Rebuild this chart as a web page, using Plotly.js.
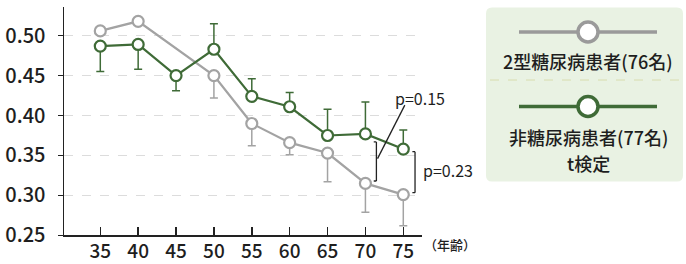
<!DOCTYPE html>
<html>
<head>
<meta charset="utf-8">
<script src="https://cdn.plot.ly/plotly-3.0.1.min.js"></script>
<style>html,body{margin:0;padding:0;background:#fff;}#chart{width:686px;height:264px;}</style>
</head>
<body>
<div id="chart"></div>
<script>
// ---- data ----
const ages = [35, 40, 45, 50, 55, 60, 65, 70, 75];
const dmValues = [0.506, 0.518, null, 0.450, 0.390, 0.366, 0.353, 0.315, 0.301];
const dmErrMinus = [0, 0, 0, 0.028, 0.028, 0.015, 0.036, 0.036, 0.039];
const dmErrPlus = [0, 0, 0, 0, 0, 0, 0, 0, 0];
const nonDmValues = [0.487, 0.489, 0.450, 0.483, 0.424, 0.411, 0.375, 0.377, 0.358];
const nonDmErrMinus = [0.032, 0.031, 0.019, 0, 0, 0, 0, 0, 0];
const nonDmErrPlus = [0, 0, 0, 0.032, 0.022, 0.018, 0.033, 0.040, 0.024];
const yTicks = [0.25, 0.30, 0.35, 0.40, 0.45, 0.50];
const yTickText = ['0.25', '0.30', '0.35', '0.40', '0.45', '0.50'];
const dmName = '2型糖尿病患者(76名)';
const nonDmName = '非糖尿病患者(77名)';
const testName = 't検定';
const xUnit = '（年齢）';
const pLabels = ['p=0.15', 'p=0.23'];

// ---- style ----
const W = 686, H = 264;
const GRAY = '#a3a3a3';
const GREEN = '#3f6b37';
const FONT = '"Noto Sans CJK JP", "Noto Sans", sans-serif';
const TXT = '#1e1e1e';
const px = x => x / W;
const py = y => 1 - y / H;

const traces = [
  {
    x: ages, y: dmValues, type: 'scatter', mode: 'lines+markers', connectgaps: true,
    line: {color: GRAY, width: 2.2},
    marker: {symbol: 'circle', size: 11, color: '#fff', line: {color: GRAY, width: 2.2}},
    error_y: {type: 'data', symmetric: false, array: dmErrPlus, arrayminus: dmErrMinus,
              color: GRAY, thickness: 1.5, width: 4},
    cliponaxis: false, showlegend: false, hoverinfo: 'skip'
  },
  {
    x: ages, y: nonDmValues, type: 'scatter', mode: 'lines+markers',
    line: {color: GREEN, width: 2.2},
    marker: {symbol: 'circle', size: 11, color: '#fff', line: {color: GREEN, width: 2.2}},
    error_y: {type: 'data', symmetric: false, array: nonDmErrPlus, arrayminus: nonDmErrMinus,
              color: GREEN, thickness: 1.5, width: 4},
    cliponaxis: false, showlegend: false, hoverinfo: 'skip'
  }
];

function roundRect(x0, y0, x1, y1, r) {
  const X = v => px(v).toFixed(5), Y = v => py(v).toFixed(5);
  return 'M' + X(x0 + r) + ',' + Y(y0) + ' L' + X(x1 - r) + ',' + Y(y0) +
    ' Q' + X(x1) + ',' + Y(y0) + ' ' + X(x1) + ',' + Y(y0 + r) +
    ' L' + X(x1) + ',' + Y(y1 - r) +
    ' Q' + X(x1) + ',' + Y(y1) + ' ' + X(x1 - r) + ',' + Y(y1) +
    ' L' + X(x0 + r) + ',' + Y(y1) +
    ' Q' + X(x0) + ',' + Y(y1) + ' ' + X(x0) + ',' + Y(y1 - r) +
    ' L' + X(x0) + ',' + Y(y0 + r) +
    ' Q' + X(x0) + ',' + Y(y0) + ' ' + X(x0 + r) + ',' + Y(y0) + ' Z';
}
function circ(cx, cy, r, color) {
  return {type: 'circle', xref: 'paper', yref: 'paper',
    x0: px(cx - r), x1: px(cx + r), y0: py(cy + r), y1: py(cy - r),
    fillcolor: '#fff', line: {color: color, width: 3.5}};
}
function seg(x0, y0, x1, y1, color, width, dash) {
  return {type: 'line', xref: 'paper', yref: 'paper', x0: px(x0), x1: px(x1), y0: py(y0), y1: py(y1),
    line: {color: color, width: width, dash: dash || 'solid'}};
}
function dseg(x0, y0, x1, y1) {
  return {type: 'line', xref: 'x', yref: 'y', x0: x0, x1: x1, y0: y0, y1: y1,
    line: {color: '#222', width: 1.3}};
}

const shapes = [
  {type: 'path', xref: 'paper', yref: 'paper', path: roundRect(486, 7.5, 683, 181.5, 6),
   fillcolor: '#e9f2e3', line: {width: 0}, layer: 'below'},
  seg(519, 32, 657, 32, '#9a9a9a', 3.5),
  circ(588, 32, 10, '#9a9a9a'),
  seg(490, 80, 680, 80, '#d8dcae', 1, 'dash'),
  seg(519, 106.5, 657, 106.5, GREEN, 3.5),
  circ(588, 106.5, 10, GREEN),
  // bracket at age 70
  dseg(71.1, 0.367, 71.45, 0.367),
  dseg(71.45, 0.367, 71.45, 0.318),
  dseg(71.1, 0.318, 71.45, 0.318),
  dseg(71.6, 0.346, 75.2, 0.413),
  // bracket at age 75
  dseg(76.2, 0.3547, 76.55, 0.3547),
  dseg(76.55, 0.3547, 76.55, 0.3034),
  dseg(76.2, 0.3034, 76.55, 0.3034)
];

const LF = {family: FONT, size: 18, color: TXT, weight: 500};
const annotations = [
  {xref: 'paper', yref: 'paper', x: px(588), y: py(61), text: dmName, showarrow: false,
   font: LF, xanchor: 'center', yanchor: 'middle'},
  {xref: 'paper', yref: 'paper', x: px(588), y: py(136.5), text: nonDmName, showarrow: false,
   font: LF, xanchor: 'center', yanchor: 'middle'},
  {xref: 'paper', yref: 'paper', x: px(588), y: py(163), text: testName, showarrow: false,
   font: LF, xanchor: 'center', yanchor: 'middle'},
  {xref: 'paper', yref: 'paper', x: px(422), y: py(244), text: xUnit, showarrow: false,
   font: {family: FONT, size: 13, color: TXT, weight: 500}, xanchor: 'left', yanchor: 'middle'},
  {xref: 'paper', yref: 'paper', x: px(393), y: py(98.5), text: pLabels[0], showarrow: false,
   font: {family: FONT, size: 16, color: TXT}, xanchor: 'left', yanchor: 'middle'},
  {xref: 'paper', yref: 'paper', x: px(421), y: py(170), text: pLabels[1], showarrow: false,
   font: {family: FONT, size: 16, color: TXT}, xanchor: 'left', yanchor: 'middle'}
];

const TF = {family: FONT, size: 19, color: TXT, weight: 500};
const layout = {
  width: W, height: H,
  margin: {l: 0, r: 0, t: 0, b: 0, pad: 0},
  paper_bgcolor: '#fff', plot_bgcolor: 'rgba(0,0,0,0)',
  showlegend: false,
  font: {family: FONT, color: TXT},
  xaxis: {
    domain: [64 / W, 421.7 / W], range: [30.21, 77.43],
    tickmode: 'array', tickvals: ages, ticktext: ages.map(String),
    ticks: 'inside', ticklen: 8, tickwidth: 1.5, tickcolor: '#222',
    ticklabelstandoff: -2,
    showline: true, linecolor: '#222', linewidth: 1.5,
    showgrid: false, zeroline: false,
    tickfont: TF
  },
  yaxis: {
    domain: [(H - 235.3) / H, (H - 6.7) / H], range: [0.25, 0.5363],
    tickmode: 'array', tickvals: yTicks, ticktext: yTickText,
    ticks: 'outside', ticklen: 5, tickwidth: 1.5, tickcolor: '#222',
    ticklabelstandoff: 8,
    showline: true, linecolor: '#222', linewidth: 1.5,
    showgrid: true, gridcolor: '#dcdcdc', griddash: 'dash', gridwidth: 1,
    zeroline: false,
    tickfont: {family: FONT, size: 20, color: TXT, weight: 500}
  },
  shapes: shapes,
  annotations: annotations
};

Plotly.newPlot('chart', traces, layout, {staticPlot: true, displayModeBar: false});
</script>
</body>
</html>
